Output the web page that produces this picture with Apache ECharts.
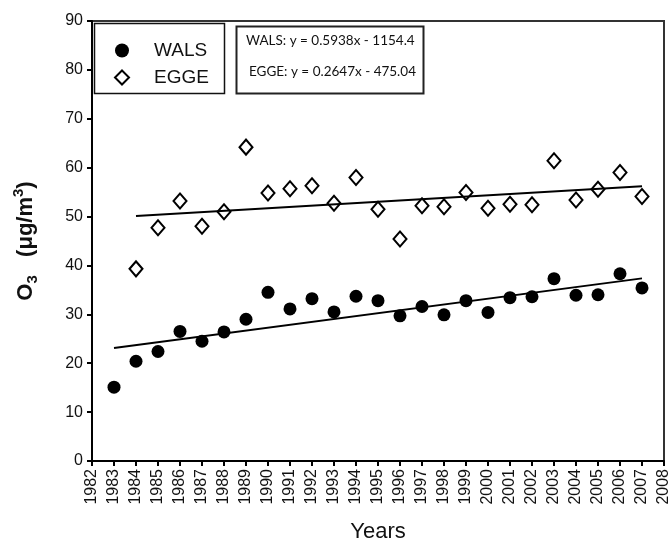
<!DOCTYPE html>
<html>
<head>
<meta charset="utf-8">
<script src="https://cdn.jsdelivr.net/npm/echarts@6/dist/echarts.min.js"></script>
<style>
  html, body { margin: 0; padding: 0; background: #fff; }
  #main { width: 669px; height: 545px; }
</style>
</head>
<body>
<div id="main"></div>
<script>
// years and O3 yearly means
var walsYears = [1983, 1984, 1985, 1986, 1987, 1988, 1989, 1990, 1991, 1992, 1993, 1994, 1995,
  1996, 1997, 1998, 1999, 2000, 2001, 2002, 2003, 2004, 2005, 2006, 2007];
var walsValues = [15.1, 20.4, 22.4, 26.5, 24.5, 26.4, 29.0, 34.5, 31.1, 33.2, 30.5, 33.7, 32.8,
  29.7, 31.6, 29.9, 32.8, 30.4, 33.4, 33.6, 37.3, 33.9, 34.0, 38.3, 35.4];
var eggeYears = [1984, 1985, 1986, 1987, 1988, 1989, 1990, 1991, 1992, 1993, 1994, 1995,
  1996, 1997, 1998, 1999, 2000, 2001, 2002, 2003, 2004, 2005, 2006, 2007];
var eggeValues = [39.3, 47.7, 53.2, 48.0, 51.0, 64.2, 54.8, 55.7, 56.3, 52.7, 58.0, 51.5,
  45.4, 52.2, 52.0, 54.9, 51.7, 52.5, 52.4, 61.4, 53.4, 55.6, 59.0, 54.1];

// linear fits as printed on the chart
var walsFit = { slope: 0.5938, intercept: -1154.4 };
var eggeFit = { slope: 0.2647, intercept: -475.04 };
var equations = ['WALS: y = 0.5938x - 1154.4', 'EGGE: y = 0.2647x - 475.04'];

function pairs(xs, ys) {
  var out = [];
  for (var i = 0; i < xs.length; i++) out.push([xs[i], ys[i]]);
  return out;
}
function fitLine(xs, fit) {
  var a = xs[0], b = xs[xs.length - 1];
  return [[a, fit.slope * a + fit.intercept], [b, fit.slope * b + fit.intercept]];
}

var myChart = echarts.init(document.getElementById('main'));
var font = "'Liberation Sans', Arial, sans-serif";

var option = {
  animation: false,
  backgroundColor: '#fff',
  grid: {
    left: 92, right: 5, top: 21, bottom: 84,
    containLabel: false,
    outerBoundsMode: 'none',
    show: true, borderColor: '#333', borderWidth: 2
  },
  legend: {
    data: ['WALS', 'EGGE'],
    orient: 'vertical',
    left: 109, top: 36,
    itemWidth: 14, itemHeight: 14, itemGap: 8,
    textStyle: { fontFamily: font, fontSize: 19, color: '#111', padding: [0, 0, 0, 20] }
  },
  xAxis: {
    type: 'value',
    min: 1982, max: 2008, interval: 1,
    name: 'Years',
    nameLocation: 'middle',
    nameGap: 60,
    nameTextStyle: { fontFamily: font, fontSize: 22, color: '#111' },
    splitLine: { show: false },
    axisLine: { lineStyle: { color: '#000', width: 2 } },
    axisTick: { inside: false, length: 5, lineStyle: { color: '#000', width: 2 } },
    axisLabel: {
      rotate: 90, fontFamily: font, fontSize: 16, color: '#111', margin: 8,
      formatter: function (v) { return String(v); }
    }
  },
  yAxis: {
    type: 'value',
    min: 0, max: 90, interval: 10,
    name: '{b|O}{s|3}{b|   (μg/m}{p|3}{b|)}',
    nameLocation: 'middle',
    nameGap: 50,
    nameTextStyle: {
      rich: {
        b: { fontFamily: font, fontSize: 22, fontWeight: 'bold', color: '#111', lineHeight: 32, verticalAlign: 'middle' },
        s: { fontFamily: font, fontSize: 15, fontWeight: 'bold', color: '#111', lineHeight: 32, verticalAlign: 'bottom', padding: [0, 0, 2, 0] },
        p: { fontFamily: font, fontSize: 15, fontWeight: 'bold', color: '#111', lineHeight: 32, verticalAlign: 'top', padding: [1, 0, 0, 0] }
      }
    },
    splitLine: { show: false },
    axisLine: { show: true, lineStyle: { color: '#000', width: 2 } },
    axisTick: { show: true, inside: false, length: 5, lineStyle: { color: '#000', width: 2 } },
    axisLabel: { fontFamily: font, fontSize: 16, color: '#111', margin: 9 }
  },
  graphic: [
    {
      type: 'rect', left: 92, top: 21,
      shape: { width: 130, height: 70 },
      style: { fill: 'none', stroke: '#111', lineWidth: 1.5 }
    },
    {
      type: 'rect', left: 234, top: 24,
      shape: { width: 187, height: 67 },
      style: { fill: 'none', stroke: '#222', lineWidth: 2 }
    },
    {
      type: 'text', left: 246, top: 34,
      style: { text: equations[0], font: '13.5px Lato, sans-serif', fill: '#111' }
    },
    {
      type: 'text', left: 249, top: 65,
      style: { text: equations[1], font: '13.5px Lato, sans-serif', fill: '#111' }
    }
  ],
  series: [
    {
      name: 'WALS', type: 'scatter',
      data: pairs(walsYears, walsValues),
      symbol: 'circle', symbolSize: 13,
      itemStyle: { color: '#000', opacity: 1 }
    },
    {
      name: 'EGGE', type: 'scatter',
      data: pairs(eggeYears, eggeValues),
      symbol: 'diamond', symbolSize: [13, 15],
      itemStyle: { color: '#fff', borderColor: '#000', borderWidth: 2, opacity: 1 }
    },
    {
      name: 'WALS fit', type: 'line',
      data: fitLine(walsYears, walsFit),
      symbol: 'none',
      lineStyle: { color: '#000', width: 2 }
    },
    {
      name: 'EGGE fit', type: 'line',
      data: fitLine(eggeYears, eggeFit),
      symbol: 'none',
      lineStyle: { color: '#000', width: 2 }
    }
  ]
};
myChart.setOption(option);
window.addEventListener('resize', function () { myChart.resize(); });
</script>
</body>
</html>
